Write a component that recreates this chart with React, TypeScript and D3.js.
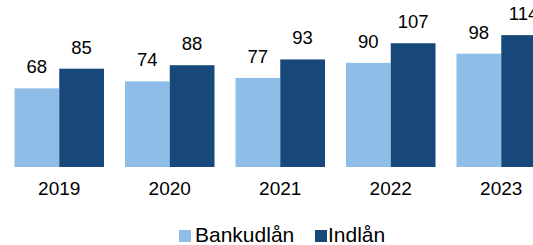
import React from "react";
import { scaleBand, scaleLinear } from "d3";

// years on the x axis
const years = ["2019", "2020", "2021", "2022", "2023"];
// series names, used for legend too
const seriesNames = ["Bankudlån", "Indlån"];
const bankudlan = [68, 74, 77, 90, 98];
const indlan = [85, 88, 93, 107, 114];

const colors: Record<string, string> = {
  Bankudlån: "#8ebde7",
  Indlån: "#18487a",
};

const W = 533;
const H = 245;
const FONT = "'Liberation Sans', Arial, sans-serif";

export default function App() {
  const values: Record<string, number[]> = {
    Bankudlån: bankudlan,
    Indlån: indlan,
  };

  // chart runs past the right edge, like the source
  const x0 = scaleBand<string>()
    .domain(years)
    .range([4, 556.5])
    .paddingInner(0.19)
    .paddingOuter(0.095);

  const x1 = scaleBand<string>()
    .domain(seriesNames)
    .range([0, x0.bandwidth()]);

  const y = scaleLinear().domain([0, 120]).range([167, 28.2]);

  // legend spots (square x, text x)
  const legendPos = [
    { sq: 179, tx: 195 },
    { sq: 315, tx: 328 },
  ];

  return (
    <svg
      width={W}
      height={H}
      style={{ position: "absolute", left: 0, top: 0, background: "#fff" }}
      fontFamily={FONT}
    >
      {years.map((yr, i) => (
        <g key={yr} transform={`translate(${x0(yr)},0)`}>
          {seriesNames.map((s) => {
            const v = values[s][i];
            const bx = x1(s) as number;
            return (
              <g key={s}>
                <rect
                  x={bx}
                  y={y(v)}
                  width={x1.bandwidth()}
                  height={y(0) - y(v)}
                  fill={colors[s]}
                />
                <text
                  x={bx + x1.bandwidth() / 2}
                  y={y(v) - 15}
                  textAnchor="middle"
                  fontSize={18.5}
                  fill="#000"
                >
                  {v}
                </text>
              </g>
            );
          })}
          <text
            x={x0.bandwidth() / 2}
            y={195}
            textAnchor="middle"
            fontSize={19}
            fill="#000"
          >
            {yr}
          </text>
        </g>
      ))}

      {seriesNames.map((s, i) => (
        <g key={s}>
          <rect x={legendPos[i].sq} y={230} width={12} height={12} fill={colors[s]} />
          <text x={legendPos[i].tx} y={242} fontSize={21} fill="#000">
            {s}
          </text>
        </g>
      ))}
    </svg>
  );
}
